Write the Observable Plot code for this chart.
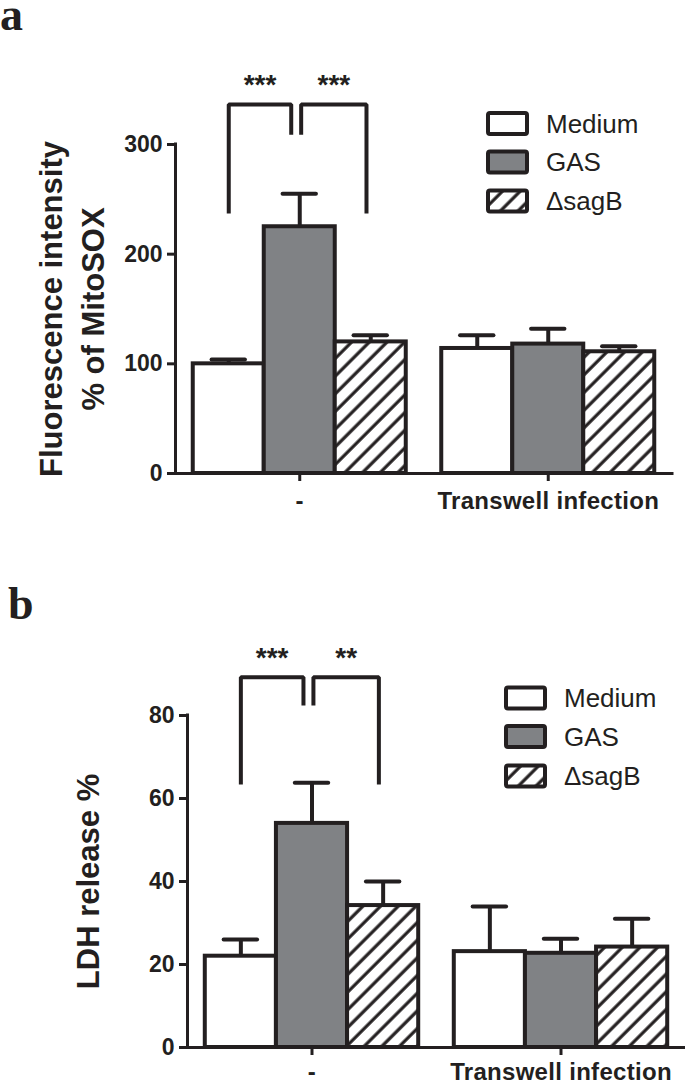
<!DOCTYPE html>
<html>
<head>
<meta charset="utf-8">
<script src="https://cdn.jsdelivr.net/npm/d3@7"></script>
<script src="https://cdn.jsdelivr.net/npm/@observablehq/plot@0.6"></script>
<style>
  body { margin: 0; background: #ffffff; }
  #wrap { position: relative; width: 685px; height: 1081px; overflow: hidden; background: #fff; }
  .panel { position: absolute; left: 0; }
  .tag { position: absolute; font-family: "Liberation Serif", "Times New Roman", serif; font-weight: bold; font-size: 46px; line-height: 1; color: #231f20; }
</style>
</head>
<body>
<div id="wrap">
  <div id="pa" class="panel" style="top:0px"></div>
  <div id="pb" class="panel" style="top:540px"></div>
  <div class="tag" style="left:0px; top:-8px;">a</div>
  <div class="tag" style="left:8px; top:581px;">b</div>
</div>
<script>
// ---------------- data ----------------
const series = ["Medium", "GAS", "\u0394sagB"];
const groups = ["-", "Transwell infection"];

// Panel a: Fluorescence intensity, % of MitoSOX
const mitoMeanNone = [100, 225, 120];
const mitoErrNone = [4, 30, 6];
const mitoMeanTranswell = [114, 118, 111];
const mitoErrTranswell = [12, 14, 5];
const mitoTicks = [0, 100, 200, 300];
const mitoSig = ["***", "***"];

// Panel b: LDH release %
const ldhMeanNone = [22, 54, 34.2];
const ldhErrNone = [4, 9.8, 5.8];
const ldhMeanTranswell = [23.1, 22.7, 24.2];
const ldhErrTranswell = [10.9, 3.5, 6.8];
const ldhTicks = [0, 20, 40, 60, 80];
const ldhSig = ["***", "**"];

// significance comparisons (series pairs within the "-" group)
const comparisons = [["Medium", "GAS"], ["GAS", "\u0394sagB"]];

// ---------------- styling / layout ----------------
const dark = "#231f20";
const gray = "#808285";
const fontSans = "'Liberation Sans', Arial, Helvetica, sans-serif";
const outerPad = 0.25, groupStep = 3.5;           // in bar widths
const slot = (gi, si) => outerPad + gi * groupStep + si;   // left edge of bar
const center = (gi, si) => slot(gi, si) + 0.5;
const groupCenters = groups.map((g, gi) => center(gi, 1));
const legNudge = [[0, -0.12], [0.02, -0.06]];

function rowsOf(means, errs) {
  const rows = [];
  groups.forEach((g, gi) => series.forEach((s, si) => {
    rows.push({group: g, series: s, gi, si, mean: means[gi][si], err: errs[gi][si]});
  }));
  return rows;
}

function makePanel(opts) {
  const {id, rows, ticks, sig, title, height, marginTop, marginBottom, marginLeft, marginRight,
         lvl, titleDx, titleLH, legendX, legendRows, xPad} = opts;
  const yMax = ticks[ticks.length - 1];
  const hatchId = "hatch-" + id;

  // bracket geometry (data units)
  const bracketPts = [];
  const stars = [];
  comparisons.forEach(([a, b], k) => {
    const ia = series.indexOf(a), ib = series.indexOf(b);
    const xa = center(0, ia) + legNudge[k][0];
    const xb = center(0, ib) + legNudge[k][1];
    const la = a === "GAS" ? lvl.inner : lvl.low;
    const lb = b === "GAS" ? lvl.inner : lvl.low;
    bracketPts.push({k, x: xa, y: la}, {k, x: xa, y: lvl.top}, {k, x: xb, y: lvl.top}, {k, x: xb, y: lb});
    stars.push({x: (xa + xb) / 2, y: lvl.star, label: sig[k]});
  });

  const plot = Plot.plot({
    width: 685,
    height,
    marginTop, marginBottom, marginLeft, marginRight,
    x: {domain: [0, 2 * groupStep], axis: null},
    y: {domain: [0, yMax], axis: null},
    color: {domain: series, range: ["#ffffff", gray, `url(#${hatchId})`]},
    style: {fontFamily: fontSans, color: dark, background: "#ffffff", overflow: "visible"},
    marks: [
      Plot.text([title], {text: d => d, frameAnchor: "left", textAnchor: "middle", lineAnchor: "middle",
        dx: titleDx, rotate: -90, fontSize: 31, fontWeight: "bold", lineHeight: titleLH, fill: dark}),
      Plot.ruleX(rows, {x: d => center(d.gi, d.si), y1: "mean", y2: d => d.mean + d.err,
        stroke: dark, strokeWidth: 4}),
      Plot.ruleY(rows, {y: d => d.mean + d.err, x1: d => center(d.gi, d.si) - 0.235,
        x2: d => center(d.gi, d.si) + 0.235, stroke: dark, strokeWidth: 4, strokeLinecap: "round"}),
      Plot.rect(rows, {x1: d => slot(d.gi, d.si), x2: d => slot(d.gi, d.si) + 1, y1: 0, y2: "mean",
        fill: "series", stroke: dark, strokeWidth: 4, strokeLinejoin: "miter"}),
      Plot.ruleX([0], {y1: 0, y2: yMax, stroke: dark, strokeWidth: 3, strokeLinecap: "square"}),
      Plot.ruleY([0], {stroke: dark, strokeWidth: 3, strokeLinecap: "square"}),
      Plot.axisY({ticks, tickSize: 8, tickPadding: 5, stroke: dark, strokeWidth: 3, fill: dark,
        fontSize: 23, fontWeight: "bold", tickFormat: d => String(d), label: null}),
      Plot.axisX({ticks: groupCenters, tickSize: 8, tickPadding: xPad, stroke: dark, strokeWidth: 3, fill: dark,
        fontSize: 24, fontWeight: "bold", tickFormat: d => groups[groupCenters.indexOf(d)], label: null}),
      Plot.line(bracketPts, {x: "x", y: "y", z: "k", stroke: dark, strokeWidth: 4,
        strokeLinejoin: "miter", strokeLinecap: "butt"}),
      Plot.text(stars, {x: "x", y: "y", text: "label", fontSize: 28, fontWeight: "bold", fill: dark})
    ]
  });

  const svg = d3.select(plot);
  // hatch pattern
  const defs = svg.insert("defs", ":first-child");
  const pat = defs.append("pattern").attr("id", hatchId).attr("patternUnits", "userSpaceOnUse")
    .attr("width", 12.5).attr("height", 12.5).attr("patternTransform", "rotate(45)");
  pat.append("rect").attr("width", 12.5).attr("height", 12.5).attr("fill", "#ffffff");
  pat.append("line").attr("x1", 3).attr("y1", -1).attr("x2", 3).attr("y2", 14)
    .attr("stroke", dark).attr("stroke-width", 3.2);

  svg.selectAll('g[aria-label="x-axis tick label"] text').attr("letter-spacing", "0.3px");

  // legend
  const fills = ["#ffffff", gray, `url(#${hatchId})`];
  const lg = svg.append("g").attr("aria-label", "legend");
  series.forEach((s, i) => {
    lg.append("rect").attr("x", legendX).attr("y", legendRows[i] - 10.5).attr("width", 39).attr("height", 21)
      .attr("rx", 2).attr("fill", fills[i]).attr("stroke", dark).attr("stroke-width", 4);
    lg.append("text").attr("x", legendX + 58).attr("y", legendRows[i]).attr("dy", "0.36em")
      .attr("text-anchor", "start").attr("font-size", 26).attr("font-family", fontSans)
      .attr("fill", dark).text(s);
  });

  document.getElementById(id).appendChild(plot);
}

makePanel({
  id: "pa",
  rows: rowsOf([mitoMeanNone, mitoMeanTranswell], [mitoErrNone, mitoErrTranswell]),
  ticks: mitoTicks, sig: mitoSig,
  title: "Fluorescence intensity\n% of MitoSOX",
  height: 540, marginTop: 144, marginBottom: 67, marginLeft: 175, marginRight: 13,
  lvl: {top: 336.5, low: 237, inner: 309, star: 354},
  titleDx: -106, titleLH: 1.355,
  legendX: 488, legendRows: [123.5, 162, 201], xPad: 10
});

makePanel({
  id: "pb",
  rows: rowsOf([ldhMeanNone, ldhMeanTranswell], [ldhErrNone, ldhErrTranswell]),
  ticks: ldhTicks, sig: ldhSig,
  title: "LDH release %",
  height: 541, marginTop: 175, marginBottom: 34, marginLeft: 187, marginRight: 0,
  lvl: {top: 89.2, low: 63.4, inner: 82.4, star: 93.8},
  titleDx: -100, titleLH: 1.2,
  legendX: 506, legendRows: [158, 196.5, 236], xPad: 7
});
</script>
</body>
</html>
